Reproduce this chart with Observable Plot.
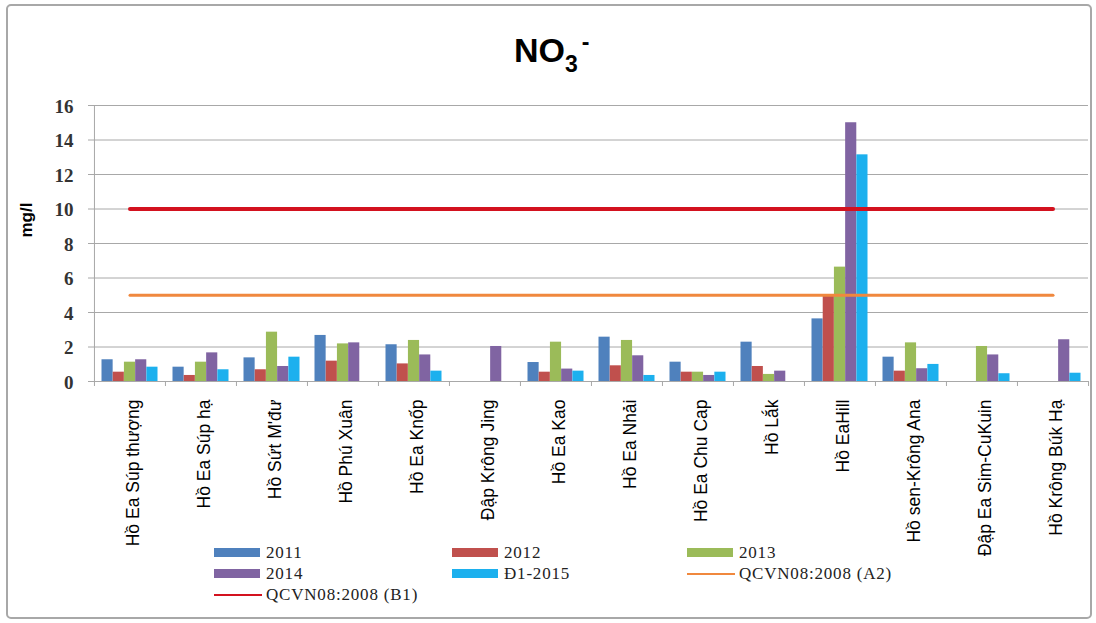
<!DOCTYPE html>
<html>
<head>
<meta charset="utf-8">
<script src="https://cdn.jsdelivr.net/npm/d3@7"></script>
<script src="https://cdn.jsdelivr.net/npm/@observablehq/plot@0.6"></script>
<style>
  html, body { margin: 0; padding: 0; background: #fff; }
  #chart { position: relative; width: 1096px; height: 623px; overflow: hidden; }
  #frame { position: absolute; left: 6px; top: 4px; width: 1086px; height: 615px;
           border: 2px solid #a8a8a8; border-radius: 5px; box-sizing: border-box; }
  #plot { position: absolute; left: 0; top: 0; }
  #plot .ytick, #plot .ytick text { font-family: "Liberation Serif", "Times New Roman", serif !important; }
  #title { position: absolute; left: 514px; top: 33px; white-space: nowrap;
           font: bold 34px "Liberation Sans", Arial, sans-serif; line-height: 34px; color: #000; }
  #title .sub { font-size: 23px; position: relative; top: 10px; }
  #title .sup { font-size: 23px; position: relative; top: -12px; margin-left: 4px; }
  #legend { position: absolute; left: 0; top: 0; }
  .item { position: absolute; height: 21px; display: flex; align-items: center;
          font: 17px "Liberation Serif", "Times New Roman", serif; letter-spacing: 0.8px; color: #222; white-space: nowrap; }
  .swatch { width: 46px; height: 9px; margin-right: 6px; }
  .linekey { width: 48px; height: 2px; margin-right: 4px; }
</style>
</head>
<body>
<div id="chart">
  <div id="frame"></div>
  <div id="plot"></div>
  <div id="title">NO<span class="sub">3</span><span class="sup">-</span></div>
  <div id="legend"></div>
</div>
<script>
// Monitoring sites (reservoirs and dams)
const categories = [
  "Hồ Ea Súp thượng", "Hồ Ea Súp hạ", "Hồ Sứt M'đư", "Hồ Phú Xuân", "Hồ Ea Knốp",
  "Đập Krông Jing", "Hồ Ea Kao", "Hồ Ea Nhải", "Hồ Ea Chu Cap", "Hồ Lắk",
  "Hồ EaHill", "Hồ sen-Krông Ana", "Đập Ea Sim-CuKuin", "Hồ Krông Búk Hạ"
];

// NO3- concentration (mg/l) per campaign; null = not sampled
const series = ["2011", "2012", "2013", "2014", "Đ1-2015"];
const v2011 = [1.26, 0.83, 1.37, 2.67, 2.13, null, 1.10, 2.57, 1.12, 2.28, 3.63, 1.41, null, null];
const v2012 = [0.54, 0.35, 0.68, 1.18, 1.02, null, 0.54, 0.91, 0.54, 0.87, 5.0, 0.60, null, null];
const v2013 = [1.12, 1.12, 2.86, 2.18, 2.38, null, 2.28, 2.38, 0.54, 0.41, 6.63, 2.24, 2.03, null];
const v2014 = [1.26, 1.66, 0.87, 2.24, 1.54, 2.03, 0.72, 1.49, 0.35, 0.60, 15.0, 0.74, 1.54, 2.42];
const v2015 = [0.83, 0.68, 1.41, null, 0.60, null, 0.60, 0.35, 0.54, null, 13.14, 0.99, 0.45, 0.48];
const seriesValues = [v2011, v2012, v2013, v2014, v2015];
const seriesColors = ["#4f81bd", "#c0504d", "#9bbb59", "#8064a2", "#1cb0ee"];

// Standard limits QCVN08:2008
const lineNames = ["QCVN08:2008 (A2)", "QCVN08:2008 (B1)"];
const lineValues = [5, 10];
const lineColors = ["#f0883e", "#d3121f"];
const lineWidths = [3, 4];

const yTicks = [0, 2, 4, 6, 8, 10, 12, 14, 16];
const yLabel = "mg/l";

// Layout
const W = 1096, H = 623;
const mL = 93, mR = 8, mT = 105, mB = 242;
const frameW = W - mL - mR, frameH = H - mT - mB;
const step = frameW / categories.length;
const groupPad = 7.5;
const barW = (step - 2 * groupPad) / series.length;
const gridColor = "#a8a8a8";

const rows = [];
series.forEach((s, i) => {
  categories.forEach((c, j) => {
    const v = seriesValues[i][j];
    if (v != null) rows.push({category: c, series: s, value: v});
  });
});

const marks = [
  // gridlines with short outside tick marks
  Plot.ruleY(yTicks, {y: d => d, stroke: gridColor, strokeWidth: 1, insetLeft: -5}),
  // left axis line
  Plot.ruleX([categories[0]], {x: d => d, dx: -step / 2, stroke: gridColor}),
  // category boundary ticks under the baseline
  Plot.ruleX(categories, {x: d => d, dx: -step / 2, stroke: gridColor, insetTop: frameH, insetBottom: -5}),
  Plot.ruleX([categories[categories.length - 1]], {x: d => d, dx: step / 2, stroke: gridColor, insetTop: frameH, insetBottom: -5}),
  ...series.map((s, i) => Plot.barY(rows.filter(r => r.series === s), {
    x: "category", y: "value", fill: seriesColors[i],
    insetLeft: groupPad + i * barW,
    insetRight: step - groupPad - (i + 1) * barW
  })),
  ...lineNames.map((n, i) => Plot.lineY(categories, {
    x: d => d, y: () => lineValues[i], stroke: lineColors[i], strokeWidth: lineWidths[i]
  })),
  // y tick labels
  Plot.text(yTicks, {
    y: d => d, text: d => String(d), frameAnchor: "left", textAnchor: "end", dx: -20, dy: 1,
    fontSize: 19, fontFamily: "'Liberation Serif', serif", fontWeight: "bold", fill: "#333",
    className: "ytick"
  }),
  // category labels
  Plot.text(categories, {
    x: d => d, text: d => d, frameAnchor: "bottom", rotate: -90,
    textAnchor: "end", lineAnchor: "middle", dy: 18, dx: 3,
    fontSize: 17.5, fontFamily: "'Liberation Sans', Arial, sans-serif", fill: "#000"
  }),
  Plot.text([yLabel], {
    text: d => d, frameAnchor: "left", rotate: -90, dx: -67, dy: -6,
    fontSize: 17, fontWeight: "bold", fontFamily: "'Liberation Sans', Arial, sans-serif", fill: "#000"
  })
];

const chart = Plot.plot({
  width: W, height: H,
  marginLeft: mL, marginRight: mR, marginTop: mT, marginBottom: mB,
  style: {background: "transparent", overflow: "visible"},
  x: {type: "band", domain: categories, padding: 0, axis: null},
  y: {domain: [0, 16], axis: null},
  marks
});
document.getElementById("plot").appendChild(chart);

// Legend: three columns, row-major order
const legendItems = [
  ...series.map((s, i) => ({label: s, color: seriesColors[i], kind: "box"})),
  ...lineNames.map((n, i) => ({label: n, color: lineColors[i], kind: "line"}))
];
const legend = document.getElementById("legend");
const colX = [214, 452, 687];
const rowY = [542, 563, 584];
legendItems.forEach((it, k) => {
  const el = document.createElement("div");
  el.className = "item";
  el.style.left = colX[k % 3] + "px";
  el.style.top = rowY[Math.floor(k / 3)] + "px";
  const key = document.createElement("span");
  key.className = it.kind === "box" ? "swatch" : "linekey";
  key.style.background = it.color;
  el.appendChild(key);
  el.appendChild(document.createTextNode(it.label));
  legend.appendChild(el);
});
</script>
</body>
</html>
